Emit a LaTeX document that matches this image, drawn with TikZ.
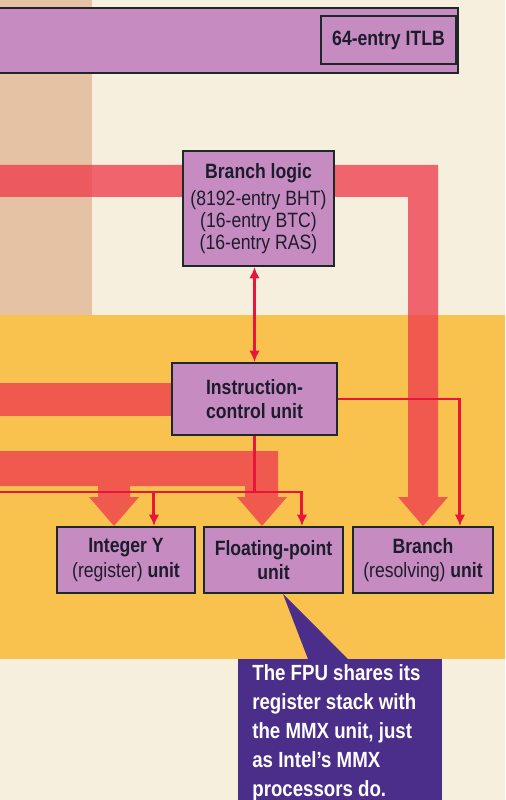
\documentclass[tikz,border=0pt]{standalone}
\usepackage{fontspec}
\setmainfont{Liberation Sans}[FakeStretch=0.85]
\usetikzlibrary{arrows.meta}

\definecolor{paper}{RGB}{246,239,221}
\definecolor{stripcol}{RGB}{229,194,163}
\definecolor{gold}{RGB}{249,194,78}
\definecolor{lilac}{RGB}{198,140,194}
\definecolor{boxline}{RGB}{30,40,40}
\definecolor{flowcol}{RGB}{238,62,78}
\definecolor{redline}{RGB}{232,22,58}
\definecolor{notecol}{RGB}{75,45,138}
\definecolor{ink}{RGB}{28,28,44}

\tikzset{
  unit/.style={draw=boxline, fill=lilac, line width=1.1pt, align=center,
    inner sep=0pt, text=ink, font=\fontsize{11.8}{14}\selectfont},
  band/.style={fill=flowcol, fill opacity=0.78},
  wire/.style={draw=redline, line width=1.7pt},
  tip/.style={-{Latex[length=6.5pt,width=6pt]}},
  note/.style={fill=notecol, text=white, align=flush left, anchor=north west,
    inner xsep=0.28cm, inner ysep=0.1cm, text width=3.52cm,
    font=\fontsize{12.5}{16.5}\selectfont\bfseries},
}

\begin{document}
\begin{tikzpicture}[x=0.02cm, y=-0.02cm]
\useasboundingbox (0,0) rectangle (505,800);
% page background
\fill[paper] (0,0) rectangle (505,800);
\fill[stripcol] (0,0) rectangle (92,315);
\fill[gold] (0,315) rectangle (505,659);

% ITLB bar
\draw[fill=lilac, draw=boxline, line width=1.1pt] (-5,8) rectangle (458,73);
\node[unit, minimum width=2.7cm, minimum height=0.96cm] (itlb) at (388.5,40) {\textbf{64-entry ITLB}};

% wide flows
\fill[band] (0,165) -- (438,165) -- (438,497) -- (448,497) -- (423,526)
  -- (398,497) -- (408,497) -- (408,197) -- (0,197) -- cycle;
\fill[band] (0,383) rectangle (171,416);
\fill[band] (0,451) -- (278,451) -- (278,497) -- (287,497) -- (262,526)
  -- (237,497) -- (245,497) -- (245,486) -- (130,486) -- (130,497)
  -- (139,497) -- (114,526) -- (89,497) -- (98,497) -- (98,486)
  -- (0,486) -- cycle;

% blocks
\node[unit, minimum width=3.02cm, minimum height=2.3cm,
  font=\fontsize{11.8}{12.5}\selectfont] (bl) at (258.5,208.5)
  {\textbf{Branch logic}\\[3pt](8192-entry BHT)\\(16-entry BTC)\\(16-entry RAS)};
\node[unit, minimum width=3.3cm, minimum height=1.44cm] (icu) at (254.5,399)
  {\textbf{Instruction-}\\\textbf{control unit}};
\node[unit, minimum width=2.76cm, minimum height=1.32cm] (iyu) at (126,560)
  {\textbf{Integer Y}\\(register) \textbf{unit}};
\node[unit, minimum width=2.78cm, minimum height=1.32cm] (fpu) at (273.5,560)
  {\textbf{Floating-point}\\\textbf{unit}};
\node[unit, minimum width=2.8cm, minimum height=1.32cm] (bru) at (423,560)
  {\textbf{Branch}\\(resolving) \textbf{unit}};

% control lines
\coordinate (busL) at (0,492);
\coordinate (iyin) at ([xshift=-0.84cm]iyu.north east);
\coordinate (fpin) at ([xshift=-0.84cm]fpu.north east);
\coordinate (brin) at ([xshift=-0.68cm]bru.north east);
\draw[wire, {Latex[length=6.5pt,width=6pt]}-{Latex[length=6.5pt,width=6pt]}]
  (icu.north) -- (icu.north |- bl.south);
\draw[wire] (icu.south) -- (icu.south |- busL);
\draw[wire, tip] (busL) -| (fpin);
\draw[wire, tip] (iyin |- busL) -- (iyin);
\draw[wire, tip] (icu.east) -| (brin);

% callout
\node[note] (fpunote) at (238,659)
  {The FPU shares its\\register stack with\\the MMX unit, just\\as Intel's MMX\\processors do.};
\coordinate (notetip) at ([xshift=0.19cm]fpu.south);
\fill[notecol] (notetip) -- ([xshift=2.2cm]fpunote.north west)
  -- ([xshift=1.4cm]fpunote.north west) -- cycle;
\end{tikzpicture}
\end{document}
